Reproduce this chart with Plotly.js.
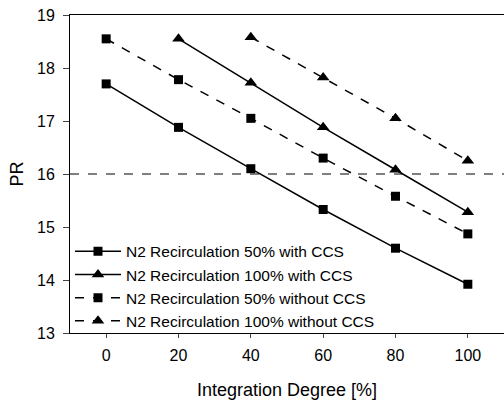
<!DOCTYPE html>
<html><head><meta charset="utf-8">
<script src="https://cdn.plot.ly/plotly-3.0.1.min.js"></script>
<style>body{margin:0;background:#fff}#c{width:504px;height:406px}</style>
</head><body><div id="c"></div>
<script>
const names = ["N2 Recirculation 50% with CCS","N2 Recirculation 100% with CCS","N2 Recirculation 50% without CCS","N2 Recirculation 100% without CCS"];
const x50 = [0,20,40,60,80,100];
const x100 = [20,40,60,80,100];
const x100b = [40,60,80,100];
const y50ccs = [17.7,16.88,16.1,15.33,14.6,13.92];
const y100ccs = [18.55,17.72,16.88,16.08,15.28];
const y50no = [18.55,17.78,17.05,16.3,15.58,14.87];
const y100no = [18.58,17.82,17.05,16.25];
const refLine = 16;

const data = [
 {x:x50, y:y50ccs, name:names[0], mode:'lines+markers', line:{color:'#000',width:1.5,dash:'solid'}, marker:{symbol:'square',size:9,color:'#000'}},
 {x:x100, y:y100ccs, name:names[1], mode:'lines+markers', line:{color:'#000',width:1.5,dash:'solid'}, marker:{symbol:'triangle-up',size:11,color:'#000'}},
 {x:x50, y:y50no, name:names[2], mode:'lines+markers', line:{color:'#000',width:1.5,dash:'dash'}, marker:{symbol:'square',size:9,color:'#000'}},
 {x:x100b, y:y100no, name:names[3], mode:'lines+markers', line:{color:'#000',width:1.5,dash:'dash'}, marker:{symbol:'triangle-up',size:11,color:'#000'}}
];
const layout = {
 width:504, height:406,
 margin:{l:70, r:0, t:15, b:73},
 paper_bgcolor:'#fff', plot_bgcolor:'#fff',
 font:{family:'Liberation Sans, Arial, sans-serif', size:16, color:'#000'},
 showlegend:true,
 legend:{x:0.0, y:-0.015, xanchor:'left', yanchor:'bottom', bgcolor:'rgba(0,0,0,0)', font:{size:15.5}, tracegroupgap:0, itemwidth:46},
 xaxis:{range:[-10,110], tickvals:[0,20,40,60,80,100], showline:true, linecolor:'#000', mirror:true, ticks:'outside', ticklen:4, ticklabelstandoff:4, showgrid:false, zeroline:false,
   title:{text:'Integration Degree [%]', font:{size:18}, standoff:20}},
 yaxis:{range:[13,19], dtick:1, showline:true, linecolor:'#000', mirror:false, ticks:'outside', ticklen:6, ticklabelstandoff:5, showgrid:false, zeroline:false,
   title:{text:'PR', font:{size:18}, standoff:8}},
 shapes:[{type:'line', xref:'paper', x0:0, x1:1, yref:'y', y0:refLine, y1:refLine, line:{color:'#000', width:1.2, dash:'dash'}}]
};
Plotly.newPlot('c', data, layout, {displayModeBar:false, staticPlot:true});
</script></body></html>
